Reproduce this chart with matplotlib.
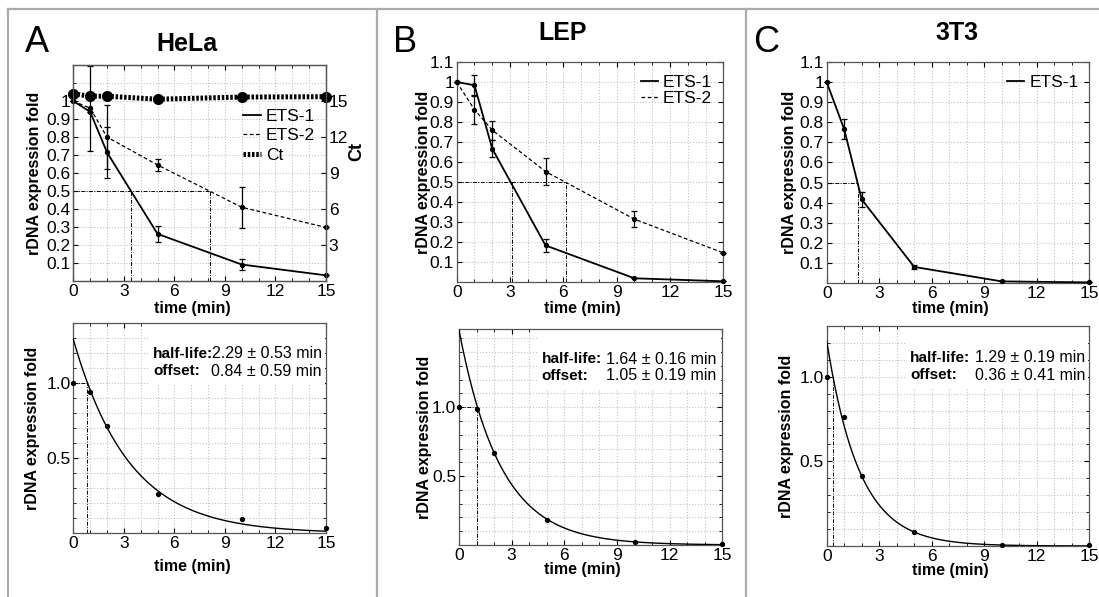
import numpy as np
import matplotlib
matplotlib.use("Agg")
import matplotlib.pyplot as plt
from matplotlib.lines import Line2D
from matplotlib.patches import Rectangle
from matplotlib.ticker import MultipleLocator, FixedLocator, FixedFormatter

plt.rcParams['font.family'] = ['Liberation Sans', 'DejaVu Sans']

# ---- data ----
time = [0, 1, 2, 5, 10, 15]

# HeLa
hela_ets1 = [1.0, 0.94, 0.715, 0.262, 0.092, 0.032]
hela_ets1_err = [0, 0, 0.14, 0.046, 0.03, 0]
hela_ets2 = [1.0, 0.96, 0.80, 0.645, 0.41, 0.298]
hela_ets2_err = [0, 0.235, 0.18, 0.035, 0.115, 0]
hela_ct = [15.6, 15.4, 15.4, 15.15, 15.33, 15.36]
hela_half = [3.45, 8.1]

# LEP
lep_ets1 = [1.0, 0.984, 0.667, 0.184, 0.02, 0.005]
lep_ets1_err = [0, 0.05, 0.043, 0.032, 0, 0]
lep_ets2 = [1.0, 0.862, 0.76, 0.553, 0.315, 0.147]
lep_ets2_err = [0, 0.07, 0.047, 0.066, 0.041, 0]
lep_half = [3.09, 6.15]

# 3T3
t3_ets1 = [1.0, 0.765, 0.416, 0.08, 0.008, 0.003]
t3_ets1_err = [0, 0.05, 0.037, 0.012, 0, 0]
t3_half = [1.76]

# fitted half-life / offset (min)
fit_half = [2.29, 1.64, 1.29]
fit_half_err = [0.53, 0.16, 0.19]
fit_offset = [0.84, 1.05, 0.36]
fit_offset_err = [0.59, 0.19, 0.41]
fit_points = [hela_ets1, lep_ets1, t3_ets1]
fit_ylim = [1.40, 1.565, 1.30]

titles = ["HeLa", "LEP", "3T3"]
letters = ["A", "B", "C"]

W, H = 1099, 597
fig = plt.figure(figsize=(W / 100, H / 100), dpi=100)


def box(l, r, t, b):
    return [l / W, 1 - b / H, (r - l) / W, (b - t) / H]


top_boxes = [box(73.3, 326, 65, 281.1), box(456.7, 723.3, 62, 282.3), box(826.7, 1089.3, 62, 283)]
bot_boxes = [box(73.3, 326, 322.7, 533.3), box(459, 722.3, 329.3, 545), box(826.7, 1089, 326, 546)]

grid_kw = dict(color='#c4c4c4', linestyle=':', linewidth=0.8)
hl_kw = dict(color='black', linewidth=0.7, linestyle=(0, (4, 1.5, 1, 1.5)))
tick_fs = 12.5


def style_axes(ax):
    ax.set_xlim(0, 15)
    ax.xaxis.set_major_locator(MultipleLocator(3))
    ax.xaxis.set_minor_locator(MultipleLocator(1))
    ax.grid(True, which='both', **grid_kw)
    ax.set_axisbelow(True)
    ax.tick_params(which='both', direction='in', top=True, right=True, labelsize=tick_fs, pad=2)
    ax.tick_params(which='major', length=3.5)
    ax.tick_params(which='minor', length=2.5)
    for s in ax.spines.values():
        s.set_color('#555555')
        s.set_linewidth(0.9)


def fold_label(v):
    return "1" if abs(v - 1) < 1e-9 else f"{v:.1f}"


# ---------- top row ----------
series = [
    [(hela_ets1, hela_ets1_err), (hela_ets2, hela_ets2_err)],
    [(lep_ets1, lep_ets1_err), (lep_ets2, lep_ets2_err)],
    [(t3_ets1, t3_ets1_err)],
]
halves = [hela_half, lep_half, t3_half]
ylab_x_top = [-0.124, -0.096, -0.113]
xlab_y_top = [-0.09, -0.083, -0.08]

for i in range(3):
    ax = fig.add_axes(top_boxes[i])
    style_axes(ax)
    if i == 0:
        ax.set_ylim(0, 1.2)
        yt = [round(0.1 * k, 1) for k in range(1, 11)]
        ax.yaxis.set_minor_locator(FixedLocator([1.1]))
        ax.tick_params(axis='y', which='both', right=False)
    else:
        ax.set_ylim(0, 1.1)
        yt = [round(0.1 * k, 1) for k in range(1, 12)]
    ax.yaxis.set_major_locator(FixedLocator(yt))
    ax.yaxis.set_major_formatter(FixedFormatter([fold_label(v) for v in yt]))

    styles = ['-', (0, (3, 2))]
    widths = [1.3, 0.9]
    names = ['ETS-1', 'ETS-2']
    handles = []
    for k, (vals, err) in enumerate(series[i]):
        ax.errorbar(time, vals, yerr=err, color='black', linestyle=styles[k], linewidth=widths[k],
                    marker='o', markersize=2.8, elinewidth=0.9, capsize=2.5, capthick=0.9,
                    clip_on=False, zorder=3)
        handles.append(Line2D([], [], color='black', linestyle=styles[k], linewidth=widths[k]))

    # half-life guides
    ax.plot([0, max(halves[i])], [0.5, 0.5], **hl_kw)
    for h in halves[i]:
        ax.plot([h, h], [0, 0.5], **hl_kw)

    labels = names[:len(series[i])]
    if i == 0:
        ax2 = ax.twinx()
        ax2.set_ylim(0, 18)
        ax2.set_yticks([3, 6, 9, 12, 15])
        ax2.tick_params(direction='in', length=3.5, labelsize=tick_fs, pad=2)
        ax2.plot(time, hela_ct, color='black', linewidth=3.6, linestyle=(0, (0.5, 0.35)),
                 marker='o', markersize=7, clip_on=False)
        ax2.set_ylabel("Ct", fontsize=13, fontweight='bold')
        ax2.yaxis.set_label_coords(1.09, 0.6)
        for s in ax2.spines.values():
            s.set_color('#555555')
            s.set_linewidth(0.9)
        handles.append(Line2D([], [], color='black', linewidth=3.6, linestyle=(0, (0.5, 0.35))))
        labels = labels + ['Ct']
        ax.legend(handles, labels, loc='upper right', bbox_to_anchor=(0.985, 0.83),
                  frameon=False, fontsize=12.5, handlelength=1.0, handletextpad=0.3,
                  labelspacing=0.25, borderaxespad=0)
    else:
        ax.legend(handles, labels, loc='upper right', bbox_to_anchor=(0.985, 0.975),
                  frameon=False, fontsize=12.5, handlelength=1.0, handletextpad=0.3,
                  labelspacing=0.05, borderaxespad=0)

    ax.set_ylabel("rDNA expression fold", fontsize=11.5, fontweight='bold')
    ax.yaxis.set_label_coords(ylab_x_top[i], 0.5)
    ax.set_xlabel("time (min)", fontsize=11.5, fontweight='bold')
    ax.xaxis.set_label_coords(0.47, xlab_y_top[i])

# ---------- bottom row ----------
ylab_x_bot = [-0.132, -0.103, -0.125]
xlab_y_bot = [-0.12, -0.077, -0.077]
text_left = [153, 541.7, 910]
text_right = [321.7, 716.7, 1085]
text_y = [354, 359, 358]
text_fs = 11

for i in range(3):
    ax = fig.add_axes(bot_boxes[i])
    style_axes(ax)
    ax.set_ylim(0, fit_ylim[i])
    ax.yaxis.set_major_locator(FixedLocator([0.5, 1.0]))
    ax.yaxis.set_major_formatter(FixedFormatter(["0.5", "1.0"]))
    ax.yaxis.set_minor_locator(MultipleLocator(0.1))

    tt = np.linspace(0, 15, 300)
    ax.plot(tt, 2.0 ** (-(tt - fit_offset[i]) / fit_half[i]), color='black', linewidth=1.0, zorder=3)
    ax.plot(time, fit_points[i], 'o', color='black', markersize=2.8, clip_on=False, zorder=4)
    ax.plot([0, fit_offset[i]], [1, 1], **hl_kw)
    ax.plot([fit_offset[i], fit_offset[i]], [0, 1], **hl_kw)

    # white patch behind the fit text
    b = bot_boxes[i]
    x0 = b[0] * W
    wpx = b[2] * W
    hpx = b[3] * H
    ax_bottom_px = (1 - b[1]) * H
    axl = (text_left[i] - 4 - x0) / wpx
    ylow = (ax_bottom_px - (text_y[i] + 30)) / hpx
    ax.add_patch(Rectangle((axl, ylow), 0.995 - axl, 0.995 - ylow, transform=ax.transAxes,
                           facecolor='white', edgecolor='none', zorder=1.5))

    fx = text_left[i] / W
    fr = text_right[i] / W
    y1 = 1 - text_y[i] / H
    y2 = 1 - (text_y[i] + 17) / H
    fig.text(fx, y1, "half-life:", fontsize=text_fs, fontweight='bold', va='center', ha='left')
    fig.text(fr, y1, f"{fit_half[i]:.2f} \u00b1 {fit_half_err[i]:.2f} min", fontsize=text_fs + 0.5,
             va='center', ha='right')
    fig.text(fx, y2, "offset:", fontsize=text_fs, fontweight='bold', va='center', ha='left')
    fig.text(fr, y2, f"{fit_offset[i]:.2f} \u00b1 {fit_offset_err[i]:.2f} min", fontsize=text_fs + 0.5,
             va='center', ha='right')

    ax.set_ylabel("rDNA expression fold", fontsize=11.5, fontweight='bold')
    ax.yaxis.set_label_coords(ylab_x_bot[i], 0.5)
    ax.set_xlabel("time (min)", fontsize=11.5, fontweight='bold')
    ax.xaxis.set_label_coords(0.47, xlab_y_bot[i])

# ---------- titles, letters and panel frames ----------
title_pos = [(187, 44), (563, 33), (957, 33)]
letter_pos = [(37, 43), (405, 42), (766, 43)]
for i in range(3):
    fig.text(title_pos[i][0] / W, 1 - title_pos[i][1] / H, titles[i], fontsize=18,
             fontweight='bold', ha='center', va='center')
    fig.text(letter_pos[i][0] / W, 1 - letter_pos[i][1] / H, letters[i], fontsize=26,
             ha='center', va='center')

frame_kw = dict(color='#ababab', linewidth=1.6, transform=fig.transFigure)
fig.add_artist(Line2D([8 / W, 1], [1 - 9 / H, 1 - 9 / H], **frame_kw))
for xv in [8, 377, 746]:
    fig.add_artist(Line2D([xv / W, xv / W], [0, 1 - 9 / H], **frame_kw))

fig.savefig("out.png", dpi=100)
